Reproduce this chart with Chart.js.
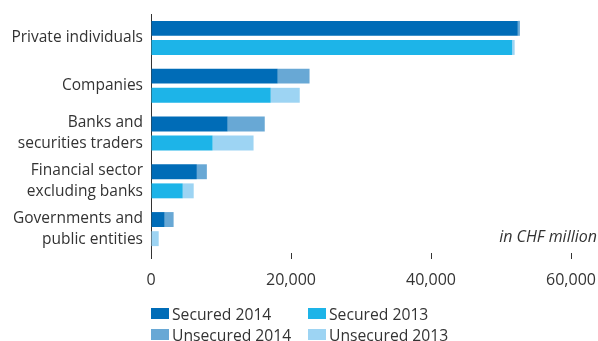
<!DOCTYPE html>
<html>
<head>
<meta charset="utf-8">
<script src="https://cdn.jsdelivr.net/npm/chart.js@4"></script>
<style>
  html, body { margin: 0; padding: 0; background: #fff; }
  #wrap { position: relative; width: 598px; height: 341px; font-family: "Open Sans", sans-serif; color: #333; }
  #unit { position: absolute; right: 1px; top: 225px; font-size: 16px; font-style: italic; }
  #legend { position: absolute; left: 151px; top: 303px; display: grid; grid-template-columns: 157px 160px; row-gap: 0px; font-size: 15.7px; }
  #legend div { display: flex; align-items: center; height: 21px; }
  #legend span.box { display: inline-block; width: 18px; height: 11px; margin-right: 3px; }
</style>
</head>
<body>
<div id="wrap">
  <canvas id="loansChart" width="598" height="341"></canvas>
  <div id="unit">in CHF million</div>
  <div id="legend"></div>
</div>
<script>
const categories = [
    'Private individuals',
    'Companies',
    ['Banks and', 'securities traders'],
    ['Financial sector', 'excluding banks'],
    ['Governments and', 'public entities']
];

// CHF million
const secured2014 = [52400, 18100, 10950, 6550, 1950];
const unsecured2014 = [300, 4550, 5300, 1430, 1280];
const secured2013 = [51600, 17100, 8800, 4530, 0];
const unsecured2013 = [350, 4150, 5850, 1570, 1100];

const xTicks = [0, 20000, 40000, 60000];

const textColor = '#333333';
const family = "'Open Sans', sans-serif";

const ctx = document.getElementById('loansChart').getContext('2d');
const chart = new Chart(ctx, {
    type: 'bar',
    data: {
        labels: categories,
        datasets: [
            { label: 'Secured 2014', data: secured2014, backgroundColor: '#006cb7', stack: '2014' },
            { label: 'Secured 2013', data: secured2013, backgroundColor: '#1db4e8', stack: '2013' },
            { label: 'Unsecured 2014', data: unsecured2014, backgroundColor: '#68a8d5', stack: '2014' },
            { label: 'Unsecured 2013', data: unsecured2013, backgroundColor: '#9dd4f3', stack: '2013' }
        ]
    },
    options: {
        indexAxis: 'y',
        responsive: false,
        animation: false,
        categoryPercentage: 0.8,
        barPercentage: 0.78,
        layout: { padding: { top: 14, right: 27, bottom: 48, left: 0 } },
        plugins: {
            legend: { display: false },
            tooltip: { enabled: false }
        },
        scales: {
            x: {
                stacked: true,
                min: 0,
                max: 60000,
                afterBuildTicks: axis => { axis.ticks = xTicks.map(v => ({ value: v })); },
                afterFit: axis => {
                    axis.height = 40;
                    axis.paddingLeft = 0;
                    axis.paddingRight = 0;
                },
                grid: { display: true, drawOnChartArea: false, drawTicks: true, tickLength: 6, color: '#333' },
                border: { display: false },
                ticks: {
                    color: textColor,
                    font: { family: family, size: 16 },
                    padding: 12,
                    maxRotation: 0,
                    callback: v => v.toLocaleString('en-US')
                }
            },
            y: {
                stacked: true,
                afterFit: axis => {
                    axis.width = 151;
                    axis.paddingTop = 0;
                    axis.paddingBottom = 0;
                },
                grid: { display: false, drawTicks: false },
                border: { display: true, color: '#333', width: 1 },
                ticks: {
                    color: textColor,
                    autoSkip: false,
                    font: { family: family, size: 15.5, lineHeight: 1.35 },
                    padding: 8
                }
            }
        }
    }
});

// Legend below the plot, two columns
const legendEl = document.getElementById('legend');
chart.options.plugins.legend.labels.generateLabels(chart).forEach(item => {
    const row = document.createElement('div');
    row.innerHTML = `<span class="box" style="background:${item.fillStyle}"></span>${item.text}`;
    legendEl.appendChild(row);
});
</script>
</body>
</html>
